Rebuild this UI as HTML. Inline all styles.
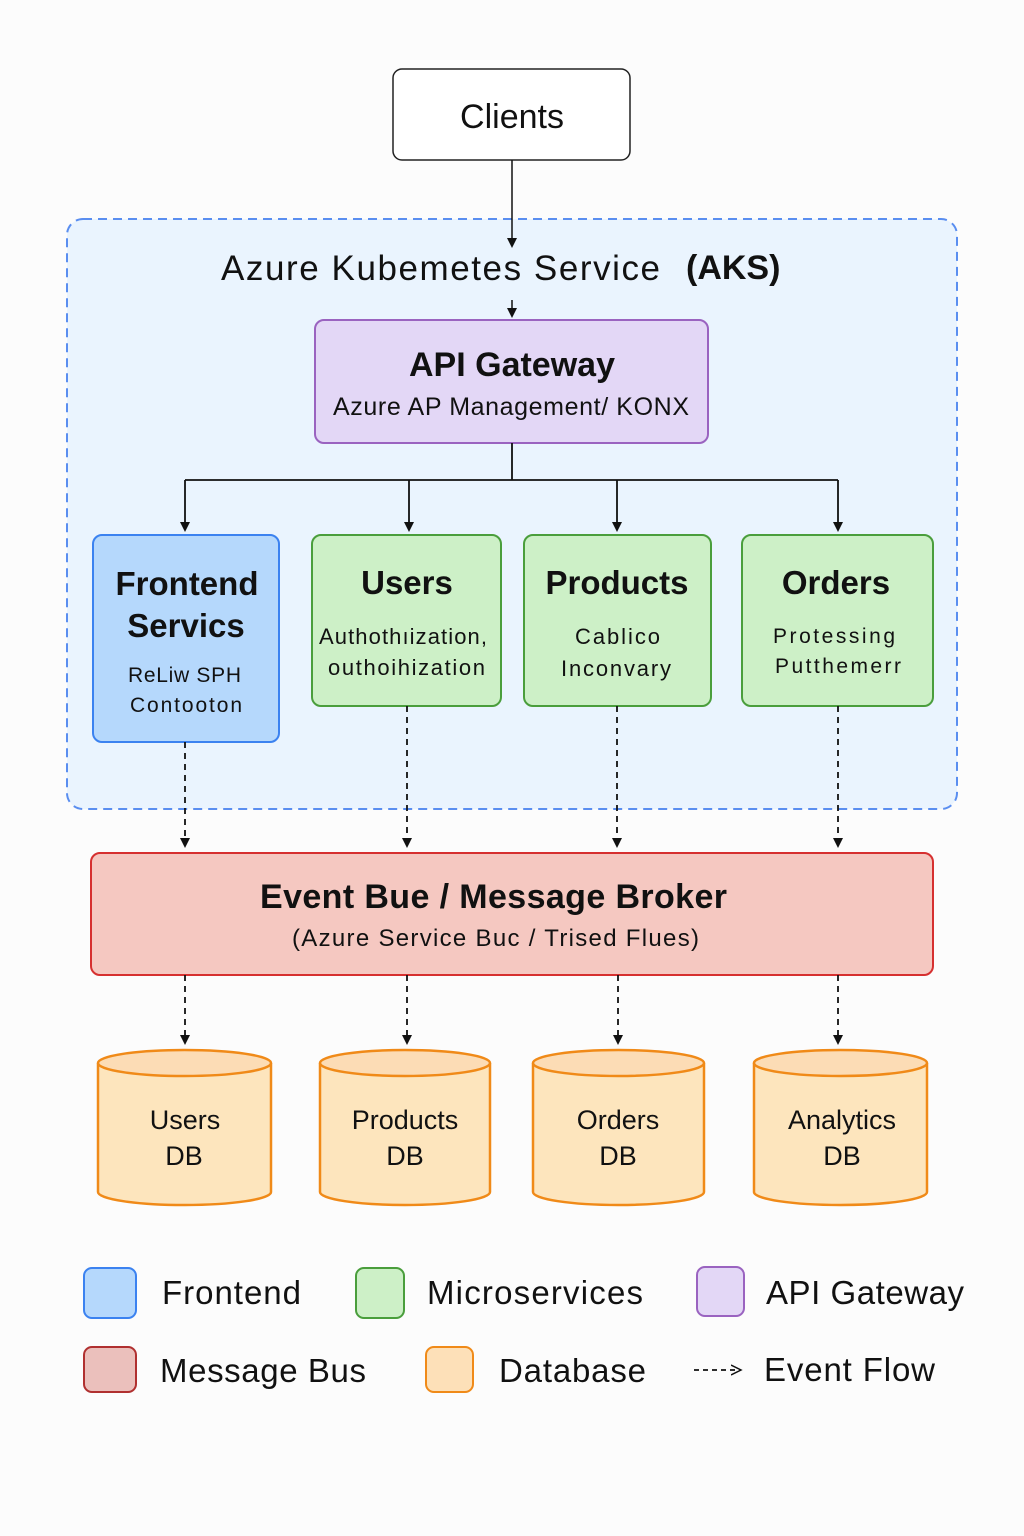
<!DOCTYPE html>
<html><head><meta charset="utf-8"><style>
html,body{margin:0;padding:0;background:#fcfcfc}
svg{display:block}
text{font-family:"Liberation Sans",sans-serif;fill:#111}
</style></head><body>
<svg width="1024" height="1536" viewBox="0 0 1024 1536" xmlns="http://www.w3.org/2000/svg">
<defs>
<marker id="ah" markerWidth="10" markerHeight="10" refX="5" refY="5" orient="auto" markerUnits="userSpaceOnUse"><path d="M0,0 L10,5 L0,10 z" fill="#111"/></marker>
<marker id="ah2" markerWidth="12" markerHeight="12" refX="10" refY="6" orient="auto" markerUnits="userSpaceOnUse"><path d="M0,1 L10,6 L0,11" fill="none" stroke="#111" stroke-width="1.5"/></marker>
</defs>
<rect x="0" y="0" width="1024" height="1536" fill="#fcfcfc"/>
<rect x="67" y="219" width="890" height="590" rx="16" fill="#eaf4fe" stroke="#5a8ef0" stroke-width="2" stroke-dasharray="9,6"/>
<rect x="393" y="69" width="237" height="91" rx="9" fill="#fff" stroke="#222" stroke-width="1.5"/>
<text x="512" y="128" font-size="34" text-anchor="middle">Clients</text>
<line x1="512" y1="160" x2="512" y2="243" stroke="#111" stroke-width="1.5" marker-end="url(#ah)"/>
<text x="221" y="280" font-size="35" textLength="439" lengthAdjust="spacing">Azure Kubemetes Service</text>
<text x="686" y="279" font-size="34" font-weight="bold">(AKS)</text>
<line x1="512" y1="300" x2="512" y2="313" stroke="#111" stroke-width="1.5" marker-end="url(#ah)"/>
<rect x="315" y="320" width="393" height="123" rx="9" fill="#e3d7f6" stroke="#9a63c0" stroke-width="2"/>
<text x="512" y="376" font-size="34" font-weight="bold" text-anchor="middle">API Gateway</text>
<text x="333" y="415" font-size="25" textLength="356" lengthAdjust="spacing">Azure AP Management/ KONX</text>
<path d="M512,443 V480 M185,480 H838" stroke="#111" stroke-width="1.8" fill="none"/>
<line x1="185" y1="480" x2="185" y2="527" stroke="#111" stroke-width="1.8" marker-end="url(#ah)"/>
<line x1="409" y1="480" x2="409" y2="527" stroke="#111" stroke-width="1.8" marker-end="url(#ah)"/>
<line x1="617" y1="480" x2="617" y2="527" stroke="#111" stroke-width="1.8" marker-end="url(#ah)"/>
<line x1="838" y1="480" x2="838" y2="527" stroke="#111" stroke-width="1.8" marker-end="url(#ah)"/>
<rect x="93" y="535" width="186" height="207" rx="9" fill="#b5d8fc" stroke="#3b82f0" stroke-width="2"/>
<text x="187" y="595" font-size="33" font-weight="bold" text-anchor="middle">Frontend</text>
<text x="186" y="637" font-size="33" font-weight="bold" text-anchor="middle">Servics</text>
<text x="128" y="682" font-size="21" textLength="113" lengthAdjust="spacing">ReLiw SPH</text>
<text x="130" y="712" font-size="21" textLength="112" lengthAdjust="spacing">Contooton</text>
<rect x="312" y="535" width="189" height="171" rx="9" fill="#cdf0c7" stroke="#4a9e3c" stroke-width="2"/>
<text x="407" y="594" font-size="33" font-weight="bold" text-anchor="middle">Users</text>
<text x="319" y="644" font-size="22" textLength="168" lengthAdjust="spacing">Authothıization,</text>
<text x="328" y="675" font-size="22" textLength="157" lengthAdjust="spacing">outhoihization</text>
<rect x="524" y="535" width="187" height="171" rx="9" fill="#cdf0c7" stroke="#4a9e3c" stroke-width="2"/>
<text x="617" y="594" font-size="33" font-weight="bold" text-anchor="middle">Products</text>
<text x="575" y="644" font-size="22" textLength="85" lengthAdjust="spacing">Cablico</text>
<text x="561" y="676" font-size="22" textLength="110" lengthAdjust="spacing">Inconvary</text>
<rect x="742" y="535" width="191" height="171" rx="9" fill="#cdf0c7" stroke="#4a9e3c" stroke-width="2"/>
<text x="836" y="594" font-size="33" font-weight="bold" text-anchor="middle">Orders</text>
<text x="773" y="643" font-size="21" textLength="122" lengthAdjust="spacing">Protessing</text>
<text x="775" y="673" font-size="21" textLength="126" lengthAdjust="spacing">Putthemerr</text>
<g stroke="#111" stroke-width="1.8" stroke-dasharray="6,5">
<line x1="185" y1="742" x2="185" y2="843" marker-end="url(#ah)"/>
<line x1="407" y1="706" x2="407" y2="843" marker-end="url(#ah)"/>
<line x1="617" y1="706" x2="617" y2="843" marker-end="url(#ah)"/>
<line x1="838" y1="706" x2="838" y2="843" marker-end="url(#ah)"/>
</g>
<rect x="91" y="853" width="842" height="122" rx="9" fill="#f5c8c1" stroke="#d63030" stroke-width="2"/>
<text x="260" y="908" font-size="34" font-weight="bold" textLength="467" lengthAdjust="spacing">Event Bue / Message Broker</text>
<text x="292" y="946" font-size="24" textLength="407" lengthAdjust="spacing">(Azure Service Buc / Trised Flues)</text>
<g stroke="#111" stroke-width="1.8" stroke-dasharray="6,5">
<line x1="185" y1="975" x2="185" y2="1040" marker-end="url(#ah)"/>
<line x1="407" y1="975" x2="407" y2="1040" marker-end="url(#ah)"/>
<line x1="618" y1="975" x2="618" y2="1040" marker-end="url(#ah)"/>
<line x1="838" y1="975" x2="838" y2="1040" marker-end="url(#ah)"/>
</g>
<g stroke="#f08a18" stroke-width="2.5">
<path d="M98,1063 V1192 A86.5,13 0 0 0 271,1192 V1063" fill="#fde5bd"/>
<ellipse cx="184.5" cy="1063" rx="86.5" ry="13" fill="#fcdcb5"/>
<path d="M320,1063 V1192 A85,13 0 0 0 490,1192 V1063" fill="#fde5bd"/>
<ellipse cx="405" cy="1063" rx="85" ry="13" fill="#fcdcb5"/>
<path d="M533,1063 V1192 A85.5,13 0 0 0 704,1192 V1063" fill="#fde5bd"/>
<ellipse cx="618.5" cy="1063" rx="85.5" ry="13" fill="#fcdcb5"/>
<path d="M754,1063 V1192 A86.5,13 0 0 0 927,1192 V1063" fill="#fde5bd"/>
<ellipse cx="840.5" cy="1063" rx="86.5" ry="13" fill="#fcdcb5"/>
</g>
<g font-size="27" text-anchor="middle">
<text x="185" y="1129">Users</text><text x="184" y="1165">DB</text>
<text x="405" y="1129">Products</text><text x="405" y="1165">DB</text>
<text x="618" y="1129">Orders</text><text x="618" y="1165">DB</text>
<text x="842" y="1129">Analytics</text><text x="842" y="1165">DB</text>
</g>
<rect x="84" y="1268" width="52" height="50" rx="8" fill="#b5d8fc" stroke="#3b82f0" stroke-width="2"/>
<text x="162" y="1304" font-size="33" textLength="139" lengthAdjust="spacing">Frontend</text>
<rect x="356" y="1268" width="48" height="50" rx="8" fill="#cdf0c7" stroke="#4a9e3c" stroke-width="2"/>
<text x="427" y="1304" font-size="33" textLength="216" lengthAdjust="spacing">Microservices</text>
<rect x="697" y="1267" width="47" height="49" rx="8" fill="#e3d7f6" stroke="#9a63c0" stroke-width="2"/>
<text x="766" y="1304" font-size="33" textLength="198" lengthAdjust="spacing">API Gateway</text>
<rect x="84" y="1347" width="52" height="45" rx="8" fill="#ebc0bc" stroke="#b03030" stroke-width="2"/>
<text x="160" y="1382" font-size="33" textLength="206" lengthAdjust="spacing">Message Bus</text>
<rect x="426" y="1347" width="47" height="45" rx="8" fill="#fde0b8" stroke="#f08a18" stroke-width="2"/>
<text x="499" y="1382" font-size="33" textLength="147" lengthAdjust="spacing">Database</text>
<line x1="694" y1="1370" x2="741" y2="1370" stroke="#111" stroke-width="1.8" stroke-dasharray="5,4" marker-end="url(#ah2)"/>
<text x="764" y="1381" font-size="33" textLength="171" lengthAdjust="spacing">Event Flow</text>
</svg>
</body></html>
